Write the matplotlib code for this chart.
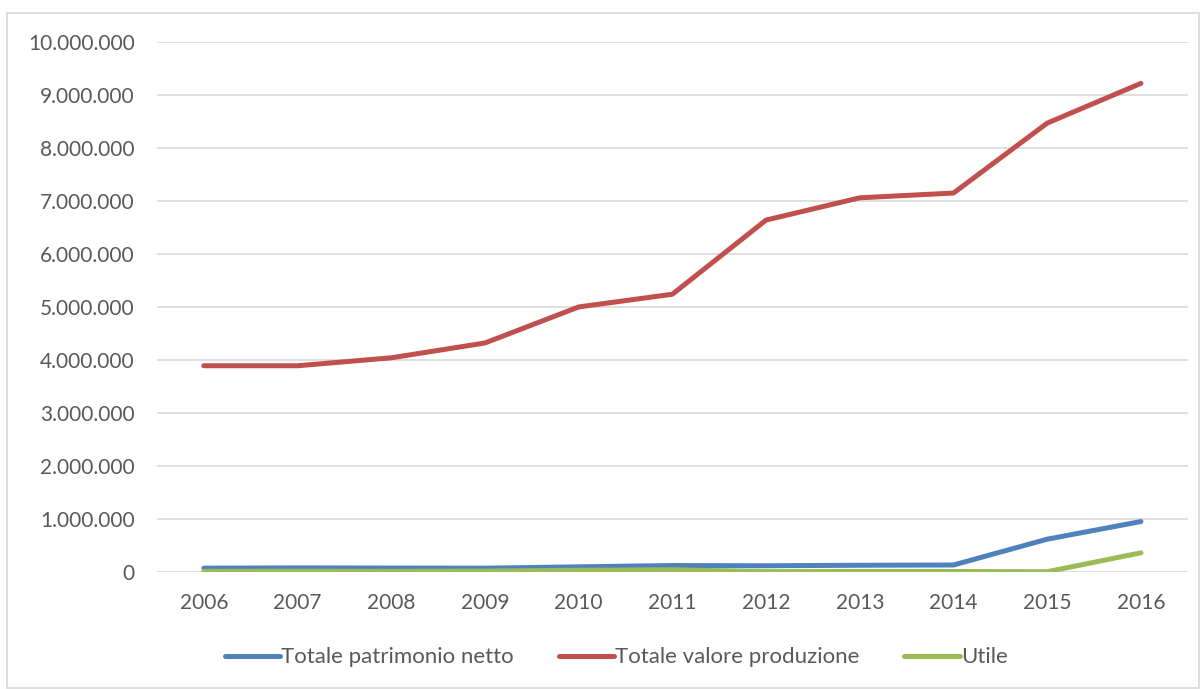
import matplotlib.pyplot as plt
from matplotlib.patches import Rectangle
from matplotlib.ticker import FuncFormatter

years = ['2006', '2007', '2008', '2009', '2010', '2011', '2012', '2013', '2014', '2015', '2016']
patrimonio = [70000, 75000, 72000, 70000, 95000, 120000, 115000, 125000, 130000, 617000, 950000]
produzione = [3890000, 3890000, 4040000, 4320000, 5000000, 5240000, 6640000, 7060000, 7150000, 8470000, 9220000]
utile = [10000, 12000, 10000, 15000, 30000, 40000, 5000, 8000, 8000, 3000, 360000]

plt.rcParams['font.family'] = ['Lato', 'DejaVu Sans']
text_col = '#595959'

fig = plt.figure(figsize=(12.01, 6.89), dpi=100)
ax = fig.add_axes([0.1307, 0.170, 0.8583, 0.769])

x = range(len(years))
ax.plot(x, patrimonio, color='#4F81BD', lw=3.6, solid_capstyle='round', label='Totale patrimonio netto')
ax.plot(x, produzione, color='#C0504D', lw=3.6, solid_capstyle='round', label='Totale valore produzione')
ax.plot(x, utile, color='#9BBB59', lw=3.6, solid_capstyle='round', label='Utile')

ax.set_xlim(-0.5, len(years) - 0.5)
ax.set_ylim(0, 10000000)
ax.set_yticks(range(0, 10000001, 1000000))
ax.yaxis.set_major_formatter(FuncFormatter(lambda v, p: f'{int(v):,}'.replace(',', '.')))
ax.set_xticks(list(x))
ax.set_xticklabels(years)
ax.tick_params(length=0, labelsize=15, colors=text_col)
ax.tick_params(axis='y', pad=16)
ax.tick_params(axis='x', pad=15)
ax.grid(axis='y', color='#D9D9D9', lw=1.2)
ax.set_axisbelow(True)
for s in ax.spines.values():
    s.set_visible(False)

leg = fig.legend(loc='center', bbox_to_anchor=(0.513, 0.046), ncol=3, frameon=False,
                 fontsize=16, handlelength=2.5, handletextpad=0.05, columnspacing=2.0)
for t in leg.get_texts():
    t.set_color(text_col)

fig.patches.append(Rectangle((7 / 1201, 0.002), 1 - 7 / 1201 - 0.002, 1 - 13 / 689 - 0.002,
                             transform=fig.transFigure, fill=False, edgecolor='#D9D9D9', lw=1.2))

fig.savefig('out.png', dpi=100)
